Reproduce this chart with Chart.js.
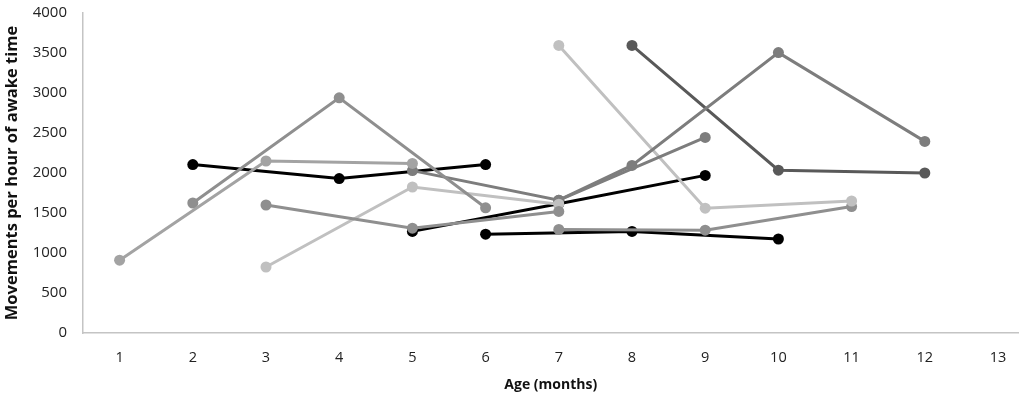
<!DOCTYPE html>
<html>
<head>
<meta charset="utf-8">
<script src="https://cdn.jsdelivr.net/npm/chart.js@4/dist/chart.umd.min.js"></script>
<style>
  html, body { margin: 0; padding: 0; background: #fff; }
  #wrap { width: 1024px; height: 401px; }
</style>
</head>
<body>
<div id="wrap"><canvas id="chart"></canvas></div>
<script>
// Age ticks (months)
const ageTicks = [1, 2, 3, 4, 5, 6, 7, 8, 9, 10, 11, 12, 13];

// one small pair of arrays per infant (months, movements per hour)
const aMonths = [1, 3, 5];        const aValues = [910, 2150, 2120];
const bMonths = [2, 4, 6];        const bValues = [1625, 2940, 1565];
const cMonths = [3, 5, 7];        const cValues = [1600, 1310, 1520];
const dMonths = [3, 5, 7];        const dValues = [825, 1825, 1610];
const eMonths = [5, 7, 9];        const eValues = [2030, 1660, 2445];
const fMonths = [7, 8, 10, 12];   const fValues = [1660, 2095, 3505, 2395];
const gMonths = [7, 9, 11];       const gValues = [3595, 1560, 1650];
const hMonths = [8, 10, 12];      const hValues = [3595, 2035, 2000];
const iMonths = [7, 9, 11];       const iValues = [1295, 1285, 1580];
const jMonths = [2, 4, 6];        const jValues = [2105, 1930, 2105];
const kMonths = [5, 7, 9];        const kValues = [1270, 1615, 1970];
const lMonths = [6, 8, 10];       const lValues = [1235, 1270, 1175];

const series = [
  { m: aMonths, v: aValues, c: '#a3a3a3' },
  { m: bMonths, v: bValues, c: '#8f8f8f' },
  { m: cMonths, v: cValues, c: '#8f8f8f' },
  { m: dMonths, v: dValues, c: '#c0c0c0' },
  { m: eMonths, v: eValues, c: '#7d7d7d' },
  { m: fMonths, v: fValues, c: '#7d7d7d' },
  { m: gMonths, v: gValues, c: '#c0c0c0' },
  { m: hMonths, v: hValues, c: '#595959' },
  { m: iMonths, v: iValues, c: '#8f8f8f' },
  { m: jMonths, v: jValues, c: '#000000' },
  { m: kMonths, v: kValues, c: '#000000' },
  { m: lMonths, v: lValues, c: '#000000' }
];

const datasets = series.map(s => ({
  data: s.m.map((m, i) => ({ x: m, y: s.v[i] })),
  borderColor: s.c,
  backgroundColor: s.c,
  borderWidth: 3,
  pointRadius: 5.5,
  pointHoverRadius: 5.5,
  pointBorderWidth: 0,
  tension: 0
}));

const font = "'Open Sans', 'Noto Sans', sans-serif";

new Chart(document.getElementById('chart'), {
  type: 'line',
  data: { datasets },
  options: {
    responsive: true,
    maintainAspectRatio: false,
    animation: false,
    layout: { padding: { top: 13, right: 0, bottom: 6, left: 0 } },
    plugins: { legend: { display: false }, tooltip: { enabled: false } },
    scales: {
      x: {
        type: 'linear',
        min: 0.5,
        max: 13.28,
        afterBuildTicks: (scale) => { scale.ticks = ageTicks.map(v => ({ value: v })); },
        afterFit: (scale) => { scale.height = 62; },
        grid: { display: false, drawTicks: false },
        border: { display: true, color: '#c4c4c4', width: 1.5 },
        ticks: { color: '#222', padding: 16, font: { family: font, size: 14.5 } },
        title: {
          display: true,
          text: 'Age (months)',
          color: '#111',
          padding: { top: 4, bottom: 2 },
          font: { family: font, size: 14, weight: 'bold' }
        }
      },
      y: {
        min: 0,
        max: 4000,
        afterFit: (scale) => {
          scale.width = 83;
          scale.paddingTop = 0;
          scale.paddingBottom = 0;
        },
        grid: { display: false, drawTicks: false },
        border: { display: true, color: '#c4c4c4', width: 1.5 },
        ticks: {
          stepSize: 500,
          color: '#222',
          padding: 16,
          font: { family: font, size: 15 },
          callback: (val) => String(val)
        },
        title: {
          display: true,
          text: 'Movements per hour of awake time',
          color: '#111',
          padding: { top: 2, bottom: 2 },
          font: { family: font, size: 16.5, weight: 'bold' }
        }
      }
    }
  }
});
</script>
</body>
</html>
